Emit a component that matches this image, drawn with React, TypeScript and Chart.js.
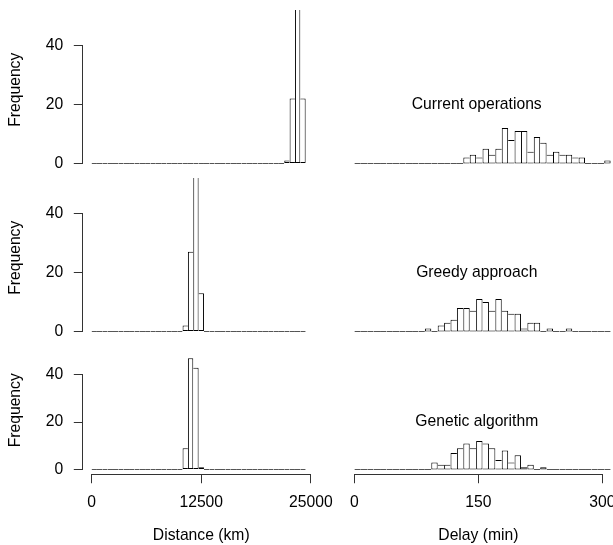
import React, { useEffect, useRef } from "react";
import { Chart, registerables } from "chart.js";

Chart.register(...registerables);

// ---------------- data ----------------
const binCount = 40;
const distanceBinWidth = 610; // km per histogram bin
const delayBinWidth = 7.75; // minutes per histogram bin

const methodNames = ["Current operations", "Greedy approach", "Genetic algorithm"];
const frequencyTicks = [0, 20, 40];
const distanceTicks = [0, 12500, 25000];
const delayTicks = [0, 150, 300];
const distanceTitle = "Distance (km)";
const delayTitle = "Delay (min)";
const frequencyTitle = "Frequency";
const frequencyLimit = 50;
const labelAt = { x: 148, y: 20 };

const distanceCurrent = [
  0, 0, 0, 0, 0, 0, 0, 0, 0, 0,
  0, 0, 0, 0, 0, 0, 0, 0, 0, 0,
  0, 0, 0, 0, 0, 0, 0, 0, 0, 0,
  0, 0, 0, 0, 0, 0, 1, 22, 55, 22,
];
const distanceGreedy = [
  0, 0, 0, 0, 0, 0, 0, 0, 0, 0,
  0, 0, 0, 0, 0, 0, 0, 2, 27, 58,
  13, 0, 0, 0, 0, 0, 0, 0, 0, 0,
  0, 0, 0, 0, 0, 0, 0, 0, 0, 0,
];
const distanceGenetic = [
  0, 0, 0, 0, 0, 0, 0, 0, 0, 0,
  0, 0, 0, 0, 0, 0, 0, 9, 47, 43,
  1, 0, 0, 0, 0, 0, 0, 0, 0, 0,
  0, 0, 0, 0, 0, 0, 0, 0, 0, 0,
];
const delayCurrent = [
  0, 0, 0, 0, 0, 0, 0, 0, 0, 0,
  0, 0, 0, 0, 0, 0, 0, 2, 3, 2,
  5, 3, 5, 12, 8, 11, 11, 4, 9, 7,
  3, 4, 3, 3, 2, 2, 0, 0, 0, 1,
];
const delayGreedy = [
  0, 0, 0, 0, 0, 0, 0, 0, 0, 0,
  0, 1, 0, 2, 3, 4, 8, 8, 7, 11,
  10, 7, 11, 7, 6, 6, 1, 3, 3, 0,
  1, 0, 0, 1, 0, 0, 0, 0, 0, 0,
];
const delayGenetic = [
  0, 0, 0, 0, 0, 0, 0, 0, 0, 0,
  0, 0, 3, 2, 2, 7, 9, 11, 9, 12,
  11, 9, 4, 8, 3, 6, 1, 2, 0, 1,
  0, 0, 0, 0, 0, 0, 0, 0, 0, 0,
];

// ---------------- layout / style ----------------
const FONT_FAMILY = '"Liberation Sans", Arial, Helvetica, sans-serif';
const FONT_SIZE = 15.7;
const LABEL_FONT_SIZE = 15.7;
const BAR_COLOR = "#000";
const BASE_COLOR = "#555";
const AXIS_COLOR = "#333";
const Y_AXIS_WIDTH = 82.8;

Chart.defaults.font.family = FONT_FAMILY;
Chart.defaults.font.size = FONT_SIZE;
Chart.defaults.color = "#000";

const COLS = [
  { left: 0, width: 340, padLeft: 0, padRight: 20.3, yAxis: true },
  { left: 340, width: 273, padLeft: 4.5, padRight: 0.7, yAxis: false },
];
const ROWS = [
  { top: 0, height: 172, padTop: 10.1, padBottom: 2.6, xAxisHeight: 0 },
  { top: 172, height: 168, padTop: 6.1, padBottom: 2.6, xAxisHeight: 0 },
  { top: 340, height: 205, padTop: 6.34, padBottom: 0, xAxisHeight: 70.76 },
];

const alignPx = (p: number) => Math.round(p - 0.5) + 0.5;

// R-style axis line: only spans from first to last tick
const axisLinePlugin = {
  id: "rAxisLine",
  afterDraw(chart: any) {
    const ctx = chart.ctx;
    ctx.save();
    ctx.strokeStyle = AXIS_COLOR;
    ctx.lineWidth = 1;
    ctx.lineCap = "square";
    for (const id of ["x", "y"]) {
      const s = chart.scales[id];
      if (!s || !s.options.display || !s.ticks.length) continue;
      const vals = s.ticks.map((t: any) => t.value);
      const a = alignPx(s.getPixelForValue(Math.min(...vals)));
      const b = alignPx(s.getPixelForValue(Math.max(...vals)));
      ctx.beginPath();
      if (id === "y") {
        const x = Math.round(s.right) - 0.5;
        ctx.moveTo(x, a);
        ctx.lineTo(x, b);
      } else {
        const y = Math.round(s.top) + 0.5;
        ctx.moveTo(a, y);
        ctx.lineTo(b, y);
      }
      ctx.stroke();
    }
    ctx.restore();
  },
};

const panelLabelPlugin = {
  id: "panelLabel",
  afterDatasetsDraw(chart: any, _args: any, opts: any) {
    if (!opts || !opts.text) return;
    const { x, y } = chart.scales;
    const ctx = chart.ctx;
    ctx.save();
    ctx.font = `${LABEL_FONT_SIZE}px ${FONT_FAMILY}`;
    ctx.fillStyle = "#000";
    ctx.textAlign = "center";
    ctx.textBaseline = "middle";
    ctx.fillText(opts.text, x.getPixelForValue(opts.x), y.getPixelForValue(opts.y));
    ctx.restore();
  },
};

type PanelProps = {
  counts: number[];
  binWidth: number;
  xTicks: number[];
  xTitle: string;
  label: string;
  col: number;
  row: number;
};

function Panel({ counts, binWidth, xTicks, xTitle, label, col, row }: PanelProps) {
  const ref = useRef<HTMLCanvasElement>(null);
  const c = COLS[col];
  const r = ROWS[row];
  const showX = r.xAxisHeight > 0;
  const showY = c.yAxis;

  useEffect(() => {
    const canvas = ref.current;
    if (!canvas) return;
    const t0 = xTicks[0];
    const t1 = xTicks[xTicks.length - 1];
    const span = t1 - t0;
    const xMin = t0 - 0.04 * span;
    const xMax = t1 + 0.04 * span;
    const yMin = -0.04 * frequencyLimit;
    const yMax = frequencyLimit * 1.04;

    const data = counts.slice(0, binCount).map((v, i) => ({ x: (i + 0.5) * binWidth, y: v }));

    const borderWidth = (ctx: any) => {
      const i = ctx.dataIndex;
      if (i === undefined) return 1;
      const cur = counts[i];
      const prev = i > 0 ? counts[i - 1] : 0;
      const next = i < counts.length - 1 ? counts[i + 1] : 0;
      return {
        top: 1,
        bottom: 1,
        left: cur >= prev ? 1 : 0,
        right: cur > next ? 1 : 0,
      };
    };

    const gridOpts = {
      display: true,
      drawOnChartArea: false,
      drawTicks: true,
      tickLength: 9,
      color: AXIS_COLOR,
      lineWidth: 1,
      offset: false,
    };

    const chart = new Chart(canvas, {
      type: "bar",
      data: {
        datasets: [
          {
            data,
            backgroundColor: "#ffffff",
            borderColor: (ctx: any) =>
              ctx.dataIndex !== undefined && counts[ctx.dataIndex] === 0 ? BASE_COLOR : BAR_COLOR,
            borderWidth,
            borderSkipped: false,
            minBarLength: 1,
            barPercentage: 1,
            categoryPercentage: 1,
            inflateAmount: 0,
            clip: 0,
          } as any,
        ],
      },
      options: {
        responsive: false,
        animation: false,
        devicePixelRatio: 1,
        events: [],
        layout: {
          padding: { left: c.padLeft, right: c.padRight, top: r.padTop, bottom: r.padBottom },
        },
        plugins: {
          legend: { display: false },
          tooltip: { enabled: false },
          panelLabel: { text: label, x: labelAt.x, y: labelAt.y },
        } as any,
        scales: {
          x: {
            type: "linear",
            min: xMin,
            max: xMax,
            offset: false,
            display: showX,
            afterBuildTicks: (s: any) => {
              s.ticks = xTicks.map((v) => ({ value: v }));
            },
            afterFit: (s: any) => {
              if (!showX) return;
              s.height = r.xAxisHeight;
              s.paddingLeft = 0;
              s.paddingRight = 0;
            },
            grid: gridOpts,
            border: { display: false },
            ticks: {
              autoSkip: false,
              maxRotation: 0,
              minRotation: 0,
              padding: 10,
              color: "#000",
              font: { size: FONT_SIZE },
              callback: (v: any) => String(v),
            },
            title: {
              display: true,
              text: xTitle,
              color: "#000",
              font: { size: FONT_SIZE },
              padding: { top: 0, bottom: 0 },
            },
          },
          y: {
            type: "linear",
            min: yMin,
            max: yMax,
            display: showY,
            afterBuildTicks: (s: any) => {
              s.ticks = frequencyTicks.map((v) => ({ value: v }));
            },
            afterFit: (s: any) => {
              if (!showY) return;
              s.width = Y_AXIS_WIDTH;
              s.paddingTop = 0;
              s.paddingBottom = 0;
            },
            grid: gridOpts,
            border: { display: false },
            ticks: {
              padding: 10.5,
              color: "#000",
              font: { size: FONT_SIZE },
              callback: (v: any) => String(v),
            },
            title: {
              display: true,
              text: frequencyTitle,
              color: "#000",
              font: { size: FONT_SIZE },
              padding: { top: 6.6, bottom: 0 },
            },
          },
        } as any,
      },
      plugins: [axisLinePlugin, panelLabelPlugin],
    });
    return () => chart.destroy();
  }, []);

  return (
    <canvas
      ref={ref}
      width={c.width}
      height={r.height}
      style={{ position: "absolute", left: c.left, top: r.top, width: c.width, height: r.height }}
    />
  );
}

export default function App() {
  const distance = [distanceCurrent, distanceGreedy, distanceGenetic];
  const delay = [delayCurrent, delayGreedy, delayGenetic];
  return (
    <div
      style={{
        position: "absolute",
        left: 0,
        top: 0,
        width: 613,
        height: 545,
        overflow: "hidden",
        background: "#fff",
      }}
    >
      {methodNames.map((name, row) => (
        <React.Fragment key={name}>
          <Panel
            counts={distance[row]}
            binWidth={distanceBinWidth}
            xTicks={distanceTicks}
            xTitle={distanceTitle}
            label=""
            col={0}
            row={row}
          />
          <Panel
            counts={delay[row]}
            binWidth={delayBinWidth}
            xTicks={delayTicks}
            xTitle={delayTitle}
            label={name}
            col={1}
            row={row}
          />
        </React.Fragment>
      ))}
    </div>
  );
}
